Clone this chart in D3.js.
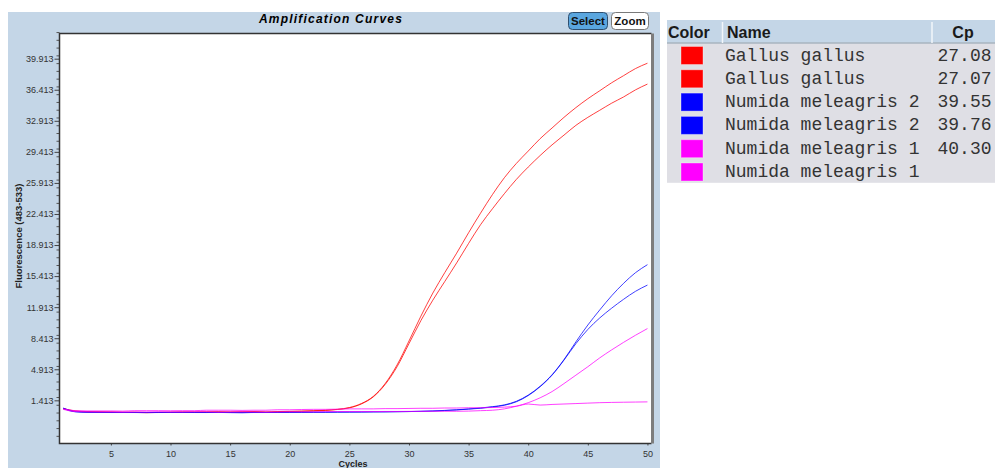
<!DOCTYPE html>
<html>
<head>
<meta charset="utf-8">
<script src="https://cdn.jsdelivr.net/npm/d3@7"></script>
<style>
  body { margin: 0; background: #fff; }
  svg { display: block; }
</style>
</head>
<body>
<svg id="chart" width="995" height="468"></svg>
<script>
// cycle numbers 1..50
const cycles = d3.range(1, 51);

// fluorescence (483-533), one value per cycle
const gallus1 = [0.50, 0.22, 0.15, 0.12, 0.10, 0.08, 0.08, 0.05, 0.06, 0.08,
  0.10, 0.10, 0.10, 0.12, 0.10, 0.12, 0.15, 0.10, 0.15, 0.18,
  0.20, 0.25, 0.30, 0.40, 0.60, 1.05, 1.85, 3.30, 5.40, 8.10,
  10.9, 13.5, 15.8, 18.0, 20.3, 22.5, 24.6, 26.5, 28.1, 29.5,
  30.9, 32.1, 33.3, 34.4, 35.4, 36.3, 37.2, 38.0, 38.8, 39.4];
const gallus2 = [0.45, 0.20, 0.12, 0.10, 0.08, 0.05, 0.05, 0.02, 0.05, 0.06,
  0.08, 0.08, 0.10, 0.10, 0.08, 0.10, 0.12, 0.08, 0.12, 0.15,
  0.18, 0.22, 0.28, 0.38, 0.56, 1.00, 1.80, 3.20, 5.20, 7.80,
  10.4, 12.7, 14.8, 16.9, 19.1, 21.2, 23.0, 24.7, 26.3, 27.7,
  29.0, 30.2, 31.3, 32.4, 33.3, 34.1, 34.9, 35.6, 36.4, 37.05];
const numida2a = [0.55, 0.15, 0.08, 0.06, 0.05, 0.05, 0.04, 0.04, 0.05, 0.05,
  0.05, 0.05, 0.04, 0.05, 0.04, 0.02, 0.05, 0.05, 0.05, 0.06,
  0.06, 0.08, 0.08, 0.10, 0.10, 0.10, 0.12, 0.12, 0.14, 0.15,
  0.18, 0.22, 0.28, 0.35, 0.45, 0.55, 0.70, 0.90, 1.30, 2.00,
  3.00, 4.30, 6.00, 8.00, 9.90, 11.6, 13.2, 14.6, 15.8, 16.7];
const numida2b = [0.50, 0.12, 0.06, 0.05, 0.04, 0.04, 0.04, 0.03, 0.04, 0.05,
  0.05, 0.04, 0.04, 0.05, 0.03, 0.03, 0.04, 0.04, 0.05, 0.05,
  0.06, 0.06, 0.07, 0.08, 0.09, 0.10, 0.11, 0.12, 0.13, 0.15,
  0.17, 0.20, 0.26, 0.33, 0.42, 0.52, 0.66, 0.86, 1.25, 1.95,
  2.95, 4.25, 5.95, 7.80, 9.40, 10.7, 11.8, 12.8, 13.7, 14.4];
const numida1a = [0.40, 0.15, 0.12, 0.10, 0.10, 0.08, 0.10, 0.10, 0.12, 0.10,
  0.10, 0.12, 0.12, 0.08, 0.10, 0.12, 0.10, 0.08, 0.10, 0.12,
  0.12, 0.12, 0.14, 0.15, 0.15, 0.15, 0.15, 0.16, 0.16, 0.17,
  0.17, 0.18, 0.18, 0.18, 0.20, 0.25, 0.30, 0.45, 0.75, 1.15,
  1.70, 2.40, 3.30, 4.25, 5.20, 6.20, 7.10, 7.95, 8.75, 9.50];
const numida1b = [0.45, 0.25, 0.22, 0.22, 0.22, 0.20, 0.25, 0.25, 0.25, 0.24,
  0.25, 0.25, 0.30, 0.30, 0.30, 0.28, 0.30, 0.30, 0.35, 0.35,
  0.38, 0.40, 0.40, 0.42, 0.45, 0.45, 0.45, 0.48, 0.48, 0.50,
  0.52, 0.52, 0.55, 0.55, 0.58, 0.58, 0.60, 0.65, 0.75, 1.00,
  0.88, 0.95, 1.00, 1.05, 1.10, 1.15, 1.18, 1.20, 1.22, 1.24];

// legend / table rows
const sampleNames = ["Gallus gallus", "Gallus gallus", "Numida meleagris 2",
  "Numida meleagris 2", "Numida meleagris 1", "Numida meleagris 1"];
const sampleCp = ["27.08", "27.07", "39.55", "39.76", "40.30", ""];
const sampleColors = ["#ff0000", "#ff0000", "#0000ff", "#0000ff", "#ff00ff", "#ff00ff"];
const sampleValues = [gallus1, gallus2, numida2a, numida2b, numida1a, numida1b];

// axis ticks
const yTicks = d3.range(0, 12).map(k => 1.413 + 3.5 * k);
const xTicks = [5, 10, 15, 20, 25, 30, 35, 40, 45, 50];

const svg = d3.select("#chart");
const panelBg = "#c4d6e7";

// chart panel
svg.append("rect")
  .attr("x", 8).attr("y", 12)
  .attr("width", 652).attr("height", 456)
  .attr("fill", panelBg);

const plot = { left: 59.5, top: 33.5, right: 651.5, bottom: 443.5 };

const x = d3.scaleLinear()
  .domain([0.69, 50.34])
  .range([plot.left, plot.right]);

const y = d3.scaleLinear()
  .domain([-3.45, 42.75])
  .range([plot.bottom, plot.top]);

svg.append("rect")
  .attr("x", plot.left).attr("y", plot.top)
  .attr("width", plot.right - plot.left)
  .attr("height", plot.bottom - plot.top)
  .attr("fill", "#fff");

// title
svg.append("text")
  .attr("x", 331).attr("y", 23)
  .attr("text-anchor", "middle")
  .style("font-family", "Liberation Sans, Arial, sans-serif")
  .style("font-size", "12px")
  .style("font-weight", "bold")
  .style("font-style", "italic")
  .style("letter-spacing", "1.2px")
  .text("Amplification Curves");

// Select / Zoom buttons
const buttons = [
  { label: "Select", x0: 568, w: 39, fill: "#5aa6df", stroke: "#2f4f6f" },
  { label: "Zoom", x0: 611, w: 37, fill: "#ffffff", stroke: "#7a7a7a" }
];
const btn = svg.selectAll("g.btn")
  .data(buttons)
  .join("g")
  .attr("class", "btn");
btn.append("rect")
  .attr("x", d => d.x0 + 0.5).attr("y", 12.5)
  .attr("width", d => d.w).attr("height", 17)
  .attr("rx", 4)
  .attr("fill", d => d.fill)
  .attr("stroke", d => d.stroke);
btn.append("text")
  .attr("x", d => d.x0 + d.w / 2 + 0.5).attr("y", 25)
  .attr("text-anchor", "middle")
  .style("font-family", "Liberation Sans, Arial, sans-serif")
  .style("font-size", "11.5px")
  .style("font-weight", "bold")
  .attr("fill", "#111")
  .text(d => d.label);

// y axis with minor ticks
const minorTicks = d3.range(-3.0, 42.75, 0.875)
  .map(v => +v.toFixed(3))
  .filter(v => v >= -3.45 && v <= 42.75);
svg.append("g")
  .attr("transform", `translate(${plot.left},0)`)
  .call(d3.axisLeft(y).tickValues(minorTicks.map(v => v + 0.413)).tickSize(3).tickFormat(""))
  .call(g => g.select(".domain").remove())
  .selectAll("line").attr("stroke", "#555");

const yAxis = svg.append("g")
  .attr("transform", `translate(${plot.left},0)`)
  .call(d3.axisLeft(y).tickValues(yTicks).tickSize(5).tickPadding(1)
    .tickFormat(d3.format(".3f")));
yAxis.select(".domain").remove();
yAxis.selectAll("line").attr("stroke", "#444");
yAxis.selectAll("text")
  .attr("fill", "#333")
  .style("font-family", "Liberation Sans, Arial, sans-serif")
  .style("font-size", "9px");

// x axis
const xAxis = svg.append("g")
  .attr("transform", `translate(0,${plot.bottom})`)
  .call(d3.axisBottom(x).tickValues(xTicks).tickSize(2).tickPadding(5));
xAxis.select(".domain").remove();
xAxis.selectAll("line").attr("stroke", "#444");
xAxis.selectAll("text")
  .attr("fill", "#333")
  .style("font-family", "Liberation Sans, Arial, sans-serif")
  .style("font-size", "9px");

// axis titles
svg.append("text")
  .attr("x", 353).attr("y", 467)
  .attr("text-anchor", "middle")
  .style("font-family", "Liberation Sans, Arial, sans-serif")
  .style("font-size", "9px")
  .style("font-weight", "bold")
  .attr("fill", "#222")
  .text("Cycles");

svg.append("text")
  .attr("transform", "translate(22,236) rotate(-90)")
  .attr("text-anchor", "middle")
  .style("font-family", "Liberation Sans, Arial, sans-serif")
  .style("font-size", "9.5px")
  .style("font-weight", "bold")
  .attr("fill", "#222")
  .text("Fluorescence (483-533)");

// amplification curves
const line = d3.line()
  .x((d, i) => x(cycles[i]))
  .y(d => y(d))
  .curve(d3.curveMonotoneX);

svg.append("g")
  .selectAll("path")
  .data(sampleValues)
  .join("path")
  .attr("d", line)
  .attr("fill", "none")
  .attr("stroke", (d, i) => sampleColors[i])
  .attr("stroke-width", 1)
  .attr("stroke-opacity", 0.75);

// plot frame: dark left/top/bottom, gray shaded right edge
svg.append("path")
  .attr("d", `M${plot.right},${plot.top}H${plot.left}V${plot.bottom}H${plot.right}`)
  .attr("fill", "none")
  .attr("stroke", "#333")
  .attr("stroke-width", 1.5);
svg.append("line")
  .attr("x1", plot.right + 1).attr("x2", plot.right + 1)
  .attr("y1", plot.top).attr("y2", plot.bottom)
  .attr("stroke", "#7d7d7d")
  .attr("stroke-width", 3);

// table on the right
const table = { left: 667, right: 995, top: 20, head: 23, row: 23.3 };
const colDiv = [722.5, 932];

svg.append("rect")
  .attr("x", table.left).attr("y", table.top)
  .attr("width", table.right - table.left).attr("height", table.head)
  .attr("fill", panelBg);
svg.append("rect")
  .attr("x", table.left).attr("y", table.top + table.head)
  .attr("width", table.right - table.left)
  .attr("height", sampleNames.length * table.row)
  .attr("fill", "#dfdfe5");
svg.append("line")
  .attr("x1", table.left).attr("x2", table.right)
  .attr("y1", table.top + table.head).attr("y2", table.top + table.head)
  .attr("stroke", "#a9b4bf").attr("stroke-width", 1.5);
svg.selectAll("line.coldiv")
  .data(colDiv)
  .join("line")
  .attr("class", "coldiv")
  .attr("x1", d => d).attr("x2", d => d)
  .attr("y1", table.top + 2).attr("y2", table.top + table.head)
  .attr("stroke", "#f2f6fa").attr("stroke-width", 1.5);

const headStyle = sel => sel
  .style("font-family", "Liberation Sans, Arial, sans-serif")
  .style("font-size", "16px")
  .style("font-weight", "bold")
  .attr("fill", "#1a1a1a");
svg.append("text").attr("x", 668).attr("y", 38).text("Color").call(headStyle);
svg.append("text").attr("x", 727).attr("y", 38).text("Name").call(headStyle);
svg.append("text").attr("x", 963).attr("y", 38).attr("text-anchor", "middle").text("Cp").call(headStyle);

const rows = svg.selectAll("g.row")
  .data(sampleNames)
  .join("g")
  .attr("class", "row")
  .attr("transform", (d, i) => `translate(0,${table.top + table.head + i * table.row})`);

rows.append("rect")
  .attr("x", 681).attr("y", 3.5)
  .attr("width", 22).attr("height", 18)
  .attr("fill", (d, i) => sampleColors[i])
  .attr("stroke", "#ffffff").attr("stroke-opacity", 0.35);

rows.append("text")
  .attr("x", 725).attr("y", 17.5)
  .style("font-family", "Courier New, Liberation Mono, monospace")
  .style("font-size", "18px")
  .attr("fill", "#333")
  .text(d => d);

rows.append("text")
  .attr("x", 937.5).attr("y", 17.5)
  .style("font-family", "Courier New, Liberation Mono, monospace")
  .style("font-size", "18px")
  .attr("fill", "#333")
  .text((d, i) => sampleCp[i]);
</script>
</body>
</html>
